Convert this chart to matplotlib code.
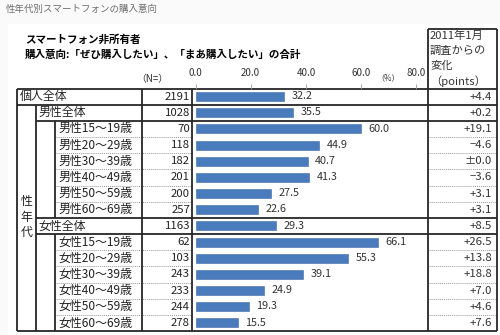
import matplotlib
matplotlib.use("Agg")
import matplotlib.pyplot as plt
from matplotlib.patches import Rectangle

plt.rcParams['font.family'] = ['Noto Sans CJK JP', 'DejaVu Sans']

# ---------------- data ----------------
labels = ["個人全体", "男性全体",
          "男性15～19歳", "男性20～29歳", "男性30～39歳", "男性40～49歳", "男性50～59歳", "男性60～69歳",
          "女性全体",
          "女性15～19歳", "女性20～29歳", "女性30～39歳", "女性40～49歳", "女性50～59歳", "女性60～69歳"]
n_values = [2191, 1028, 70, 118, 182, 201, 200, 257, 1163, 62, 103, 243, 233, 244, 278]
purchase_pct = [32.2, 35.5, 60.0, 44.9, 40.7, 41.3, 27.5, 22.6, 29.3, 66.1, 55.3, 39.1, 24.9, 19.3, 15.5]
change_pts = ["+4.4", "+0.2", "+19.1", "−4.6", "±0.0", "−3.6", "+3.1", "+3.1", "+8.5",
              "+26.5", "+13.8", "+18.8", "+7.0", "+4.6", "+7.6"]
x_ticks = [0, 20, 40, 60, 80]
x_tick_labels = ["0.0", "20.0", "40.0", "60.0", "80.0"]
page_title = "性年代別スマートフォンの購入意向"
title1 = "スマートフォン非所有者"
title2 = "購入意向:「ぜひ購入したい」、「まあ購入したい」の合計"
change_header = ["2011年1月", "調査からの", "変化", "（points）"]

# ---------------- layout (pixels) ----------------
W, H = 500, 335
fig = plt.figure(figsize=(W / 100, H / 100), dpi=100)
fig.patch.set_facecolor("#fafafa")

base = fig.add_axes([0, 0, 1, 1])
base.set_xlim(0, W)
base.set_ylim(H, 0)
base.axis("off")
base.add_patch(Rectangle((8, 24), W - 8, H - 24, facecolor="white", edgecolor="none", zorder=0))

nrows = len(labels)
top, bottom = 88.5, 331.0
rh = (bottom - top) / nrows
def ry(i):  # top edge of row i
    return top + i * rh

x_left, x_c1, x_c2, x_n0, x_n1, x_bar0, x_r0, x_r1 = 17, 36, 55, 142, 192, 195.5, 428, 497
px_per_unit = 2.76
bar_right_val = (x_r0 - x_bar0) / px_per_unit

dark = "#262626"
lw_thick = 1.3

def hline(y, x0, x1, **kw):
    base.plot([x0, x1], [y, y], color=kw.get("color", dark), lw=kw.get("lw", lw_thick),
              ls=kw.get("ls", "-"), solid_capstyle="butt", zorder=3)

def vline(x, y0, y1, **kw):
    base.plot([x, x], [y0, y1], color=kw.get("color", dark), lw=kw.get("lw", lw_thick),
              solid_capstyle="butt", zorder=3)

# titles
base.text(6, 9, page_title, fontsize=6.8, color="#6e6e6e", va="center", ha="left")
base.text(25, 40, title1, fontsize=7.6, fontweight="bold", color="black", va="center", ha="left")
base.text(25, 55, title2, fontsize=7.6, fontweight="bold", color="black", va="center", ha="left")

# header
base.text(168, 79, "（N=）", fontsize=7.0, color="#333333", va="center", ha="right")
base.text(388, 78, "（%）", fontsize=5.8, color="#333333", va="center", ha="center")
for k, line in enumerate(change_header):
    base.text(430, 36 + k * 15.0, line, fontsize=8.1, color="#333333", va="center", ha="left")

# horizontal lines
hline(29, x_r0, x_r1)
hline(ry(0), x_left, x_r1)
hline(ry(1), x_left, x_r1)
hline(ry(2), x_c1, x_r1)
hline(ry(8), x_c1, x_r1)
hline(ry(9), x_c1, x_r1)
hline(ry(nrows), x_left, x_r1)
for i in list(range(3, 8)) + list(range(10, 15)):
    hline(ry(i), x_c2, x_n1, color="#9a9a9a", lw=0.7, ls=(0, (1, 1)))
    hline(ry(i), x_r0, x_r1, color="#9a9a9a", lw=0.7, ls=(0, (1, 1)))

# vertical lines
vline(x_left, ry(0), ry(nrows))
vline(x_c1, ry(1), ry(nrows))
vline(x_c2, ry(2), ry(8))
vline(x_c2, ry(9), ry(nrows))
vline(x_n0, ry(0), ry(nrows))
vline(x_n1, ry(0), ry(nrows))
vline(x_r0, 29, ry(nrows))
vline(x_r1, 29, ry(nrows))

# vertical group label
for k, ch in enumerate("性年代"):
    base.text(26.5, 202 + k * 15, ch, fontsize=8.6, color="#222222", va="center", ha="center")

# row texts
for i, (lab, n, ch) in enumerate(zip(labels, n_values, change_pts)):
    yc = ry(i) + rh / 2
    if i == 0:
        lx = 20
    elif i in (1, 8):
        lx = 38
    else:
        lx = 58
    base.text(lx, yc, lab, fontsize=8.6, color="#222222", va="center", ha="left")
    base.text(190, yc, f"{n}", fontsize=8.2, color="#222222", va="center", ha="right")
    base.text(492, yc, ch, fontsize=8.2, color="#333333", va="center", ha="right")

# bar axes
ax = fig.add_axes([x_bar0 / W, 1 - bottom / H, (x_r0 - x_bar0) / W, (bottom - top) / H])
ax.set_facecolor("none")
ax.set_xlim(0, bar_right_val)
ax.set_ylim(nrows - 0.5, -0.5)
ypos = list(range(nrows))
ax.barh(ypos, purchase_pct, height=0.55, color="#4a7bbd", edgecolor="#3f6aa6", linewidth=0.4, zorder=2)
for yv, v in zip(ypos, purchase_pct):
    ax.text(v + 2.6, yv - 0.02, f"{v:.1f}", fontsize=7.8, color="#333333", va="center", ha="left")
for s in ax.spines.values():
    s.set_visible(False)
ax.xaxis.set_ticks_position("top")
ax.set_xticks(x_ticks)
ax.set_xticklabels(x_tick_labels, fontsize=7.0, color="#333333")
ax.tick_params(axis="x", length=3.5, width=0.6, color="#9a9a9a", pad=4)
ax.set_yticks([])

fig.savefig("out.png", dpi=100, facecolor=fig.get_facecolor())
